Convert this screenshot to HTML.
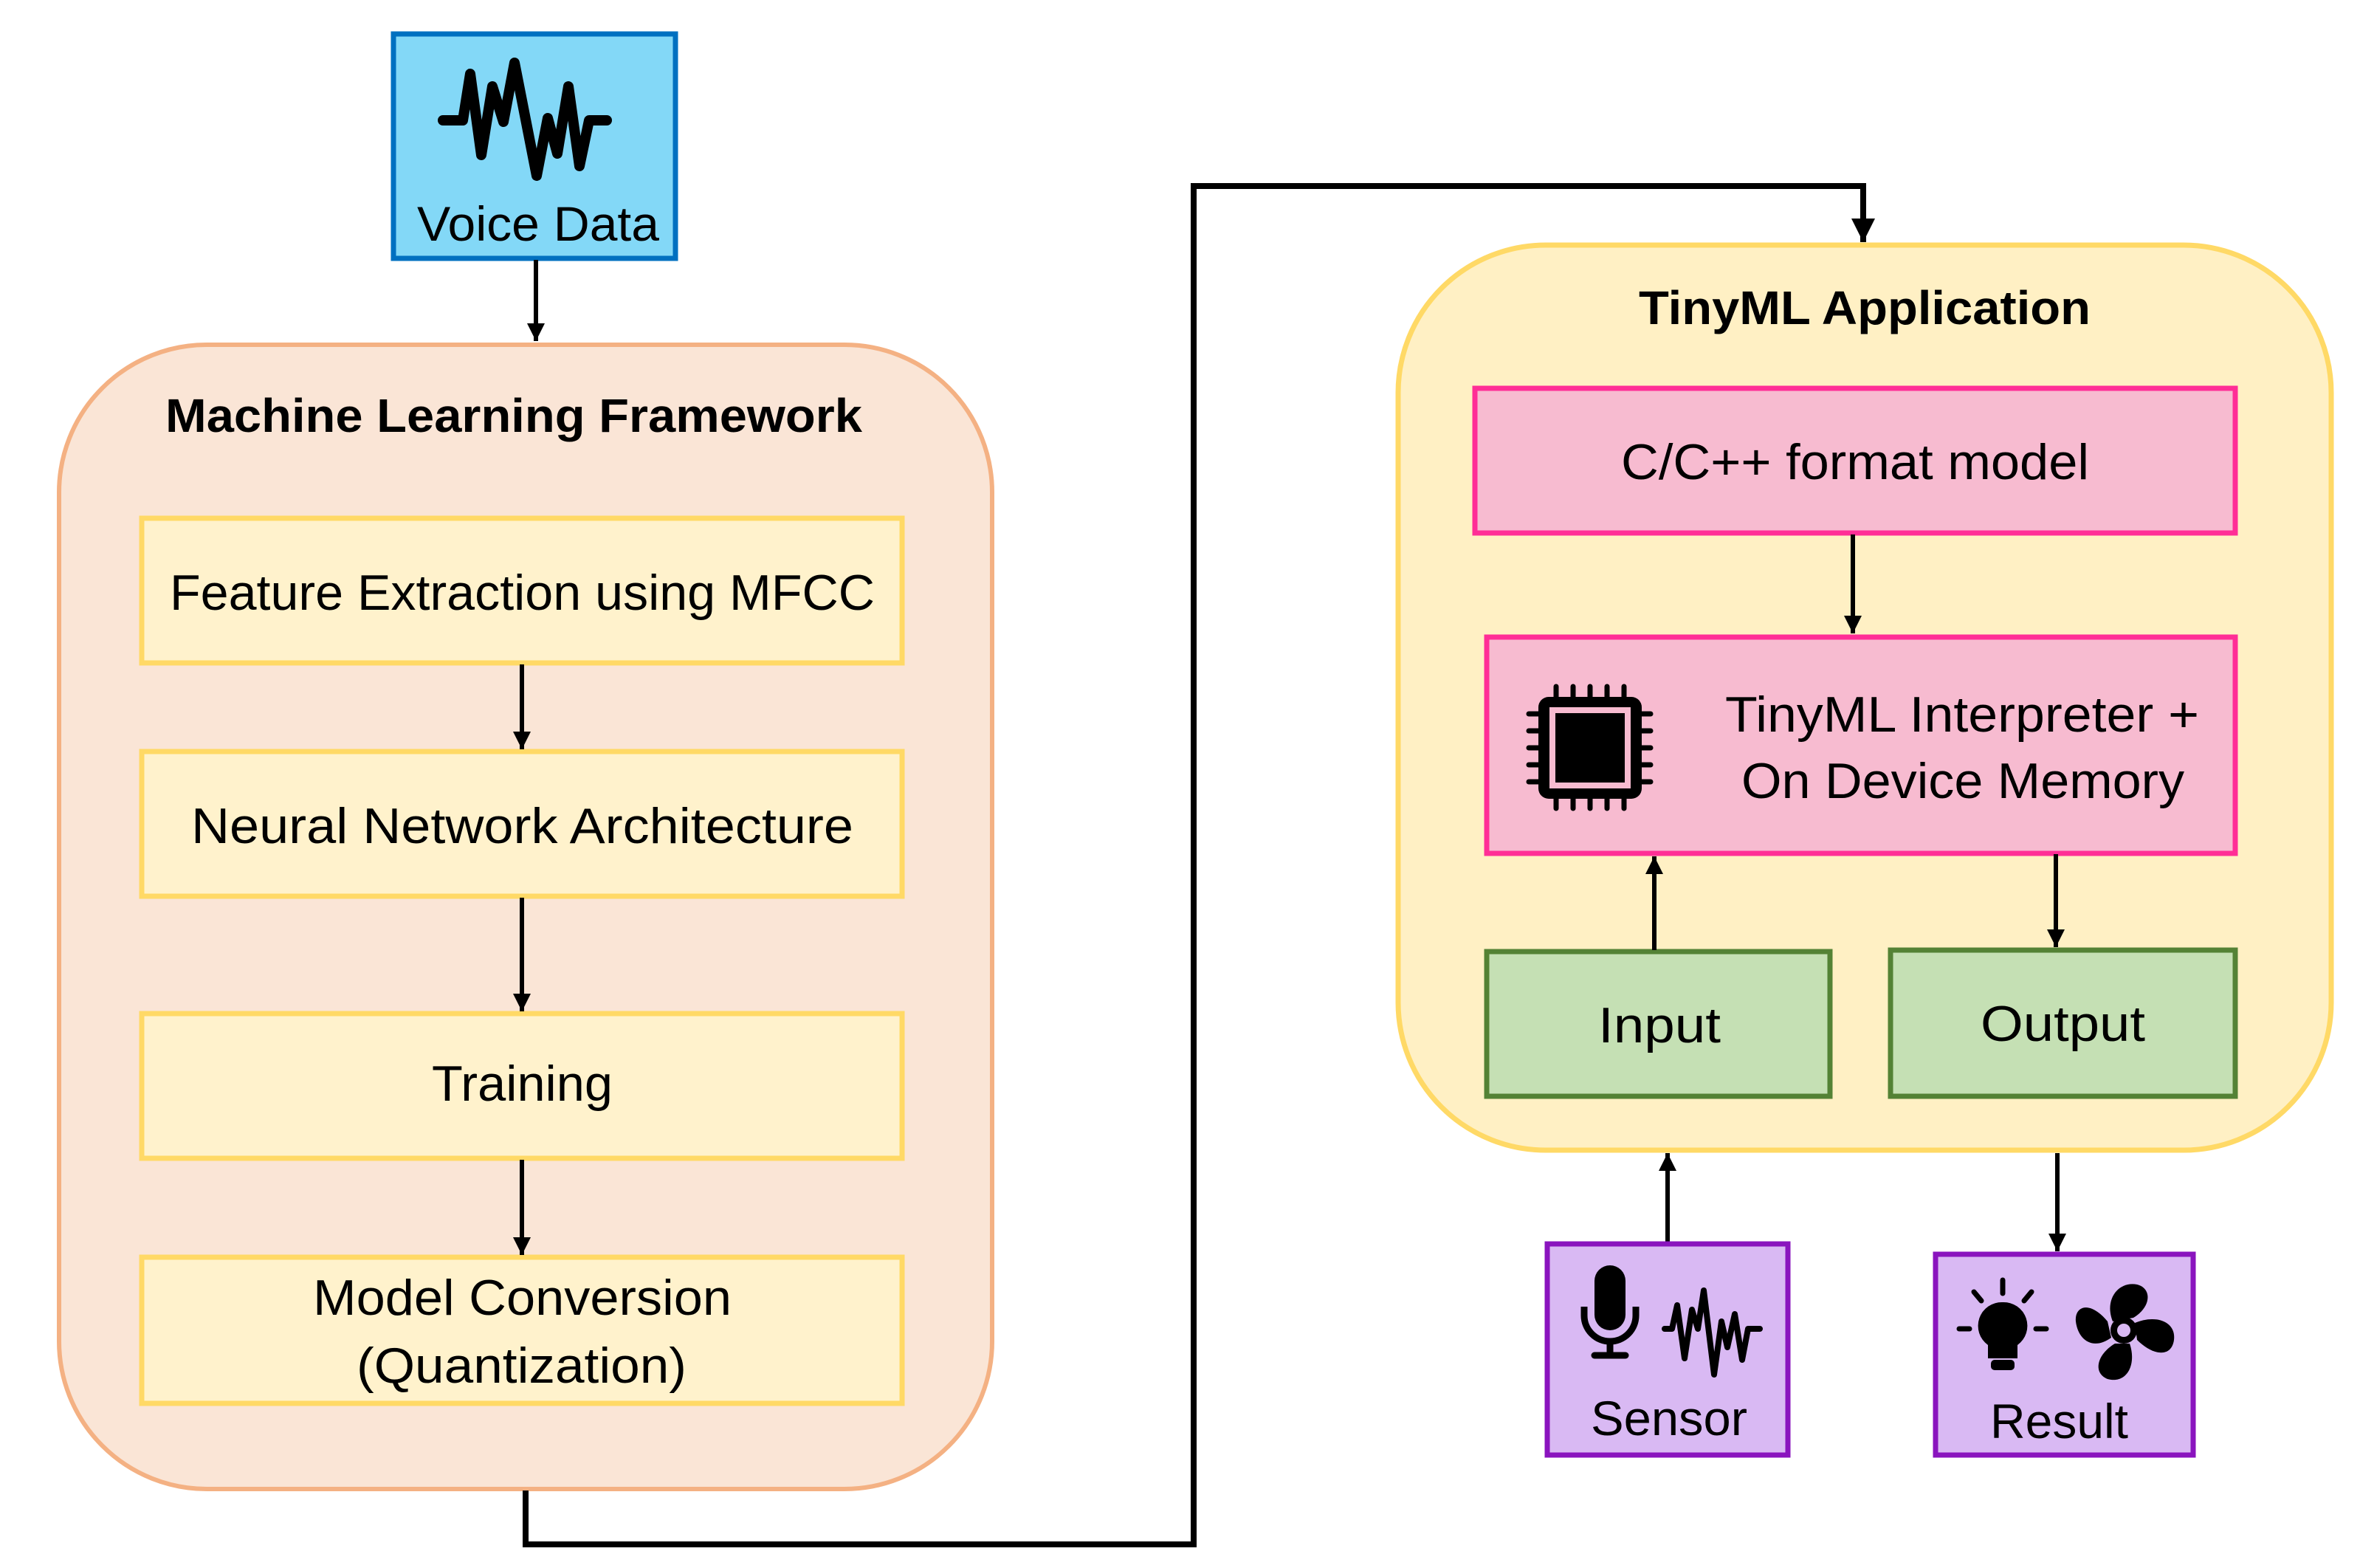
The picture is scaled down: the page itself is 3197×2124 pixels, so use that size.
<!DOCTYPE html>
<html><head><meta charset="utf-8"><style>
html,body{margin:0;padding:0;background:#fff;width:3197px;height:2124px;overflow:hidden}
svg{display:block}
text{font-family:"Liberation Sans",sans-serif;fill:#000}
</style></head><body>
<svg width="3197" height="2124" viewBox="0 0 3197 2124" xmlns="http://www.w3.org/2000/svg">
<defs>
<marker id="ah" viewBox="0 0 10 10" refX="10" refY="5" markerWidth="4" markerHeight="4.5" markerUnits="strokeWidth" orient="auto"><path d="M0,0 L10,5 L0,10 z" fill="#000"/></marker>
</defs>

<!-- Voice Data -->
<rect x="533" y="46" width="382" height="304" fill="#83d8f7" stroke="#0070c0" stroke-width="7"/>
<polyline points="600,163 627,163 637,100 652,210 667,117 682,165 697,85 727,238 742,160 755,208 770,117 785,225 798,163 822,163" fill="none" stroke="#000" stroke-width="14" stroke-linejoin="round" stroke-linecap="round"/>
<text x="565" y="326" font-size="66" textLength="328" lengthAdjust="spacingAndGlyphs">Voice Data</text>
<line x1="726" y1="352" x2="726" y2="462" stroke="#000" stroke-width="6" marker-end="url(#ah)"/>

<!-- ML Framework -->
<rect x="80" y="467" width="1264" height="1550" rx="200" ry="200" fill="#fae5d6" stroke="#f4b183" stroke-width="6"/>
<text x="224" y="585" font-size="64" font-weight="bold" textLength="944" lengthAdjust="spacingAndGlyphs">Machine Learning Framework</text>

<g fill="#fff2cc" stroke="#ffd966" stroke-width="7">
<rect x="192" y="702" width="1030" height="196"/>
<rect x="192" y="1018" width="1030" height="196"/>
<rect x="192" y="1373" width="1030" height="196"/>
<rect x="192" y="1703" width="1030" height="198"/>
</g>
<text x="230" y="826" font-size="68" textLength="955" lengthAdjust="spacingAndGlyphs">Feature Extraction using MFCC</text>
<text x="259" y="1142" font-size="68" textLength="897" lengthAdjust="spacingAndGlyphs">Neural Network Architecture</text>
<text x="585" y="1491" font-size="68" textLength="245" lengthAdjust="spacingAndGlyphs">Training</text>
<text x="424" y="1781" font-size="68" textLength="567" lengthAdjust="spacingAndGlyphs">Model Conversion</text>
<text x="483" y="1873" font-size="68" textLength="447" lengthAdjust="spacingAndGlyphs">(Quantization)</text>

<g stroke="#000" stroke-width="6">
<line x1="707" y1="900" x2="707" y2="1015" marker-end="url(#ah)"/>
<line x1="707" y1="1216" x2="707" y2="1370" marker-end="url(#ah)"/>
<line x1="707" y1="1571" x2="707" y2="1700" marker-end="url(#ah)"/>
</g>

<!-- long connector -->
<polyline points="712,2019 712,2092 1617,2092 1617,252 2524,252 2524,328" fill="none" stroke="#000" stroke-width="8" marker-end="url(#ah)"/>

<!-- TinyML Application -->
<rect x="1894" y="332" width="1264" height="1226" rx="200" ry="200" fill="#fff0c4" stroke="#ffd966" stroke-width="7"/>
<text x="2220" y="439" font-size="64" font-weight="bold" textLength="612" lengthAdjust="spacingAndGlyphs">TinyML Application</text>

<rect x="1998" y="526" width="1030" height="196" fill="#f7bbd0" stroke="#ff2e96" stroke-width="7"/>
<text x="2196" y="649" font-size="68" textLength="634" lengthAdjust="spacingAndGlyphs">C/C++ format model</text>
<line x1="2510" y1="724" x2="2510" y2="858" stroke="#000" stroke-width="6" marker-end="url(#ah)"/>

<rect x="2014" y="863" width="1014" height="293" fill="#f7bbd0" stroke="#ff2e96" stroke-width="7"/>
<text x="2337" y="991" font-size="68" textLength="642" lengthAdjust="spacingAndGlyphs">TinyML Interpreter +</text>
<text x="2359" y="1081" font-size="68" textLength="600" lengthAdjust="spacingAndGlyphs">On Device Memory</text>
<!-- chip -->
<g stroke="#000" stroke-width="7" stroke-linecap="round">
<line x1="2108" y1="930" x2="2108" y2="1095"/><line x1="2131" y1="930" x2="2131" y2="1095"/><line x1="2154" y1="930" x2="2154" y2="1095"/><line x1="2177" y1="930" x2="2177" y2="1095"/><line x1="2200" y1="930" x2="2200" y2="1095"/>
<line x1="2071" y1="967" x2="2236" y2="967"/><line x1="2071" y1="990" x2="2236" y2="990"/><line x1="2071" y1="1013" x2="2236" y2="1013"/><line x1="2071" y1="1036" x2="2236" y2="1036"/><line x1="2071" y1="1059" x2="2236" y2="1059"/>
</g>
<rect x="2084" y="944" width="140" height="138" rx="14" fill="#000"/>
<rect x="2099" y="958" width="110" height="110" fill="#f7bbd0"/>
<rect x="2107" y="966" width="94" height="94" fill="#000"/>

<rect x="2014" y="1289" width="465" height="196" fill="#c5e0b4" stroke="#548235" stroke-width="7"/>
<rect x="2561" y="1287" width="467" height="198" fill="#c5e0b4" stroke="#548235" stroke-width="7"/>
<text x="2165" y="1412" font-size="68" textLength="166" lengthAdjust="spacingAndGlyphs">Input</text>
<text x="2683" y="1410" font-size="68" textLength="223" lengthAdjust="spacingAndGlyphs">Output</text>

<g stroke="#000" stroke-width="6">
<line x1="2241" y1="1287" x2="2241" y2="1160" marker-end="url(#ah)"/>
<line x1="2785" y1="1157" x2="2785" y2="1283" marker-end="url(#ah)"/>
<line x1="2259" y1="1683" x2="2259" y2="1562" marker-end="url(#ah)"/>
<line x1="2787" y1="1562" x2="2787" y2="1695" marker-end="url(#ah)"/>
</g>

<!-- Sensor -->
<rect x="2096" y="1685" width="326" height="286" fill="#d9b9f3" stroke="#8a14be" stroke-width="7"/>
<rect x="2160" y="1714" width="42" height="88" rx="21" fill="#000"/>
<path d="M2146,1770 v12 a35,35 0 0 0 70,0 v-12" fill="none" stroke="#000" stroke-width="9"/>
<line x1="2181" y1="1817" x2="2181" y2="1833" stroke="#000" stroke-width="9"/>
<line x1="2160" y1="1836" x2="2202" y2="1836" stroke="#000" stroke-width="9" stroke-linecap="round"/>
<polyline points="2255,1800 2265,1800 2272,1768 2282,1840 2292,1774 2300,1800 2308,1748 2322,1862 2332,1790 2340,1825 2350,1780 2360,1842 2368,1800 2384,1800" fill="none" stroke="#000" stroke-width="8" stroke-linejoin="round" stroke-linecap="round"/>
<text x="2155" y="1944" font-size="66" textLength="212" lengthAdjust="spacingAndGlyphs">Sensor</text>

<!-- Result -->
<rect x="2622" y="1699" width="349" height="272" fill="#d9b9f3" stroke="#8a14be" stroke-width="7"/>
<g stroke="#000" stroke-width="7" stroke-linecap="round">
<line x1="2713" y1="1734" x2="2713" y2="1752"/>
<line x1="2674" y1="1750" x2="2684" y2="1762"/>
<line x1="2752" y1="1750" x2="2742" y2="1762"/>
<line x1="2654" y1="1800" x2="2668" y2="1800"/>
<line x1="2758" y1="1800" x2="2772" y2="1800"/>
</g>
<path d="M2713,1764 a32,32 0 0 1 20,58 v18 h-40 v-18 a32,32 0 0 1 20,-58 z" fill="#000"/>
<rect x="2697" y="1842" width="32" height="14" rx="5" fill="#000"/>
<g fill="#000">
<circle cx="2877" cy="1802" r="18"/>
<path d="M2862,1790 C2850,1760 2870,1735 2895,1740 C2915,1745 2915,1770 2890,1785 Z"/>
<path d="M2892,1792 C2920,1780 2948,1790 2945,1815 C2942,1838 2918,1838 2895,1815 Z"/>
<path d="M2885,1820 C2895,1850 2880,1875 2855,1868 C2835,1860 2840,1835 2865,1820 Z"/>
<path d="M2860,1812 C2835,1830 2815,1815 2812,1790 C2810,1770 2830,1760 2855,1790 Z"/>
</g>
<circle cx="2877" cy="1802" r="9" fill="#d9b9f3"/>
<text x="2696" y="1948" font-size="66" textLength="187" lengthAdjust="spacingAndGlyphs">Result</text>
</svg>
</body></html>
